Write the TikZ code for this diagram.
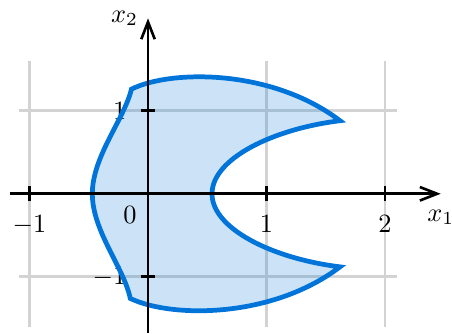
\documentclass[tikz,border=0pt]{standalone}
\usetikzlibrary{arrows.meta}
\definecolor{regionblue}{HTML}{0074D9}
\definecolor{gridgray}{HTML}{D3D3D3}
\tikzset{
  axisline/.style={draw=black,line width=1pt,
    -{Straight Barb[length=2.3mm,width=1.8mm]}},
  gridline/.style={draw=gridgray,line width=1pt},
  tickmark/.style={draw=black,line width=1pt},
  region/.style={draw=regionblue,line width=1.8pt,fill=regionblue,
    fill opacity=0.2,draw opacity=1},
}

\begin{document}
\begin{tikzpicture}[x=1.58cm,y=1.107cm]
  \path[use as bounding box] (-1.249,-1.678) rectangle (2.565,2.334);
  % corners of the region
  \coordinate (topleft) at (-0.14,1.26);
  \coordinate (tiptop) at (1.62,0.88);
  \coordinate (inner) at (0.54,0);
  \coordinate (tipbot) at (1.62,-0.88);
  \coordinate (botleft) at (-0.15,-1.26);
  \coordinate (outer) at (-0.47,0);
  % axis ends
  \coordinate (xstart) at (-1.165,0);
  \coordinate (xend) at (2.47,0);
  \coordinate (ystart) at (0,-1.678);
  \coordinate (yend) at (0,2.113);
  % grid
  \foreach \x in {-1,1,2} {\draw[gridline] (\x,-1.6) -- (\x,1.6);}
  \foreach \y in {-1,1} {\draw[gridline] (-1.09,\y) -- (2.1,\y);}
  % tick labels sit below the region
  \foreach \x/\n in {-1/m1,1/p1,2/p2} {\node[below=4.7pt] (xlabel\n) at (\x,0) {$\x$};}
  \foreach \y/\n in {-1/m1,1/p1} {\node[left=4.7pt] (ylabel\n) at (0,\y) {$\y$};}
  \path[region] (topleft)
    .. controls (0.2,1.5) and (1.05,1.5) .. (tiptop)
    .. controls (1.05,0.78) and (0.54,0.42) .. (inner)
    .. controls (0.54,-0.42) and (1.05,-0.78) .. (tipbot)
    .. controls (1.05,-1.5) and (0.2,-1.5) .. (botleft)
    .. controls (-0.2,-0.9) and (-0.47,-0.45) .. (outer)
    .. controls (-0.47,0.45) and (-0.2,0.9) .. cycle;
  % axes on top
  \draw[axisline] (xstart) -- (xend);
  \draw[axisline] (ystart) -- (yend);
  \foreach \x in {-1,1,2} {\draw[tickmark] (\x,0) ++(0,-2.8pt) -- ++(0,5.6pt);}
  \foreach \y in {-1,1} {\draw[tickmark] (0,\y) ++(-2.8pt,0) -- ++(5.6pt,0);}
  \node[below=2.5pt] (xonelabel) at (xend) {$x_1$};
  \node[left=0.3pt] (xtwolabel) at (yend) {$x_2$};
  \node (zerolabel) at (-0.152,-0.257) {$0$};
\end{tikzpicture}
\end{document}
